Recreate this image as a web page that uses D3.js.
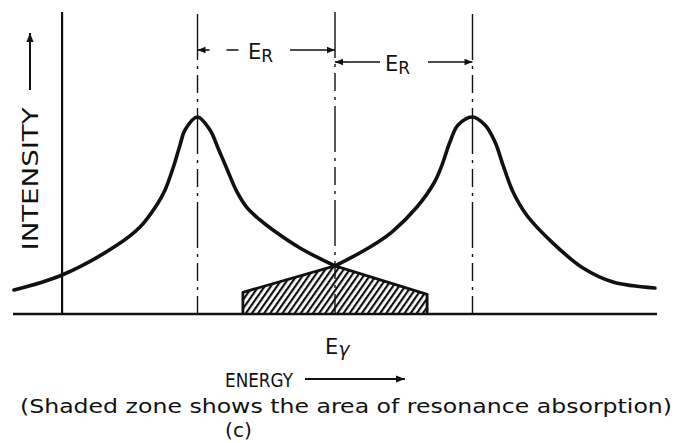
<!DOCTYPE html>
<html>
<head>
<meta charset="utf-8">
<script src="https://cdn.jsdelivr.net/npm/d3@7"></script>
<style>
  html, body { margin: 0; padding: 0; background: #fff; }
  svg { display: block; }
  text { font-family: "DejaVu Sans", "Liberation Sans", sans-serif; fill: #111; }
</style>
</head>
<body>
<svg id="chart" width="697" height="443"></svg>
<script>
// Energy in units of the recoil energy E_R, measured from E_gamma; intensity normalised to the line peak.
const emissionEnergy    = [-2.335, -1.985, -1.585, -1.418, -1.30, -1.236, -1.178, -1.127, -1.091, -1.0, -0.909, -0.851, -0.785, -0.713, -0.64, -0.55, -0.451, -0.255, 0];
const emissionIntensity = [0.122, 0.198, 0.35, 0.442, 0.55, 0.63, 0.741, 0.858, 0.934, 1.0, 0.934, 0.843, 0.735, 0.62, 0.54, 0.48, 0.426, 0.335, 0.244];

const absorptionEnergy    = [0, 0.255, 0.42, 0.596, 0.72, 0.778, 0.836, 0.895, 1.0, 1.091, 1.164, 1.222, 1.295, 1.396, 1.585, 1.804, 2.022, 2.327];
const absorptionIntensity = [0.244, 0.34, 0.42, 0.543, 0.665, 0.756, 0.873, 0.959, 1.0, 0.959, 0.873, 0.756, 0.619, 0.50, 0.36, 0.233, 0.162, 0.132];

// Resonance-absorption (overlap) zone
const overlapEnergy    = [-0.67, 0, 0.67];
const overlapIntensity = [0.11, 0.244, 0.10];

// Reference energies: E_gamma - E_R, E_gamma, E_gamma + E_R
const markerEnergies = [-1, 0, 1];
const energyRange = [-2.342, 2.342];
const intensityAxisEnergy = -1.985;

const ink = "#111";
const svg = d3.select("#chart");

const x = d3.scaleLinear().domain(energyRange).range([13, 657]);
const y = d3.scaleLinear().domain([0, 1]).range([314, 117]);

const defs = svg.append("defs");
defs.append("pattern")
  .attr("id", "hatch")
  .attr("patternUnits", "userSpaceOnUse")
  .attr("width", 5).attr("height", 5)
  .attr("patternTransform", "rotate(35)")
  .append("line")
  .attr("x1", 1).attr("y1", 0).attr("x2", 1).attr("y2", 5)
  .attr("stroke", ink).attr("stroke-width", 2.4);

function arrowMarker(id, w, h) {
  defs.append("marker")
    .attr("id", id)
    .attr("viewBox", "0 0 10 10")
    .attr("refX", 10).attr("refY", 5)
    .attr("markerUnits", "userSpaceOnUse")
    .attr("markerWidth", w).attr("markerHeight", h)
    .attr("orient", "auto-start-reverse")
    .append("path")
    .attr("d", "M0,1 L10,5 L0,9 Z")
    .attr("fill", ink);
}
arrowMarker("head", 12, 9);
arrowMarker("headSmall", 11, 8);

// Vertical dash-dot reference lines
const lineTops = [14, 12, 14];
svg.append("g").selectAll("line")
  .data(markerEnergies)
  .join("line")
  .attr("x1", d => x(d)).attr("x2", d => x(d))
  .attr("y1", (d, i) => lineTops[i]).attr("y2", y(0))
  .attr("stroke", ink).attr("stroke-width", 1.4)
  .attr("stroke-dasharray", "46,6,3,6,18,6,3,6");

// Overlap zone
const overlapPts = overlapEnergy.map((e, i) => [x(e), y(overlapIntensity[i])]);
const overlapPoly = [[x(overlapEnergy[0]), y(0)], ...overlapPts, [x(overlapEnergy[overlapEnergy.length - 1]), y(0)]];
svg.append("path")
  .attr("d", d3.line()(overlapPoly) + "Z")
  .attr("fill", "url(#hatch)")
  .attr("stroke", "none");
svg.append("path")
  .attr("d", d3.line()(overlapPoly))
  .attr("fill", "none")
  .attr("stroke", ink).attr("stroke-width", 2.8)
  .attr("stroke-linejoin", "round");

// Baseline (energy axis) and intensity axis
svg.append("line")
  .attr("x1", x(energyRange[0])).attr("x2", x(energyRange[1]))
  .attr("y1", y(0)).attr("y2", y(0))
  .attr("stroke", ink).attr("stroke-width", 2.4);
svg.append("line")
  .attr("x1", x(intensityAxisEnergy)).attr("x2", x(intensityAxisEnergy))
  .attr("y1", 12).attr("y2", y(0))
  .attr("stroke", ink).attr("stroke-width", 2.2);

// Emission and absorption lines
const lineGen = d3.line()
  .x(d => x(d[0])).y(d => y(d[1]))
  .curve(d3.curveCatmullRom.alpha(0.5));
[[emissionEnergy, emissionIntensity], [absorptionEnergy, absorptionIntensity]].forEach(([es, is]) => {
  svg.append("path")
    .datum(es.map((e, i) => [e, is[i]]))
    .attr("d", lineGen)
    .attr("fill", "none")
    .attr("stroke", ink).attr("stroke-width", 3.6)
    .attr("stroke-linecap", "round").attr("stroke-linejoin", "round");
});

// E_R spacing arrows
function spacing(e0, e1, yy, gapL, gapR, labelX) {
  const g = svg.append("g");
  g.append("line")
    .attr("x1", x(e0) + 12).attr("x2", x(e0))
    .attr("y1", yy).attr("y2", yy)
    .attr("stroke", ink).attr("stroke-width", 1.6)
    .attr("marker-end", "url(#headSmall)");
  g.append("line")
    .attr("x1", x(e0) + 12).attr("x2", gapL)
    .attr("y1", yy).attr("y2", yy)
    .attr("stroke", ink).attr("stroke-width", 1.6)
    .attr("stroke-dasharray", e0 < 0 ? "0,17,12,40" : null);
  g.append("line")
    .attr("x1", gapR).attr("x2", x(e1))
    .attr("y1", yy).attr("y2", yy)
    .attr("stroke", ink).attr("stroke-width", 1.6)
    .attr("marker-end", "url(#headSmall)");
  const t = g.append("text").attr("x", labelX).attr("y", yy + 9).attr("font-size", 21);
  t.append("tspan").text("E");
  t.append("tspan").attr("dy", 3).attr("font-size", 17).text("R");
}
spacing(-1, 0, 50, 242, 290, 248);
spacing(0, 1, 62, 380, 428, 385);

// Intensity label with arrow
svg.append("text")
  .attr("transform", "translate(38,179) rotate(-90)")
  .attr("text-anchor", "middle")
  .attr("font-size", 21)
  .attr("textLength", 143).attr("lengthAdjust", "spacingAndGlyphs")
  .text("INTENSITY");
svg.append("line")
  .attr("x1", 30).attr("x2", 30).attr("y1", 90).attr("y2", 33)
  .attr("stroke", ink).attr("stroke-width", 2)
  .attr("marker-end", "url(#head)");

// E_gamma label
const eg = svg.append("text").attr("x", x(0) - 10).attr("y", 354).attr("font-size", 21);
eg.append("tspan").text("E");
eg.append("tspan").attr("dy", 2).attr("font-style", "italic").attr("font-size", 19).text("γ");

// Energy label with arrow
svg.append("text")
  .attr("x", 225).attr("y", 387).attr("font-size", 20)
  .attr("textLength", 68).attr("lengthAdjust", "spacingAndGlyphs")
  .text("ENERGY");
svg.append("line")
  .attr("x1", 305).attr("x2", 405).attr("y1", 379).attr("y2", 379)
  .attr("stroke", ink).attr("stroke-width", 2)
  .attr("marker-end", "url(#head)");

// Caption
svg.append("text")
  .attr("x", 20).attr("y", 413).attr("font-size", 19)
  .attr("textLength", 652).attr("lengthAdjust", "spacingAndGlyphs")
  .text("(Shaded zone shows the area of resonance absorption)");
svg.append("text")
  .attr("x", 225).attr("y", 437).attr("font-size", 20)
  .attr("textLength", 27).attr("lengthAdjust", "spacingAndGlyphs")
  .text("(c)");
</script>
</body>
</html>
